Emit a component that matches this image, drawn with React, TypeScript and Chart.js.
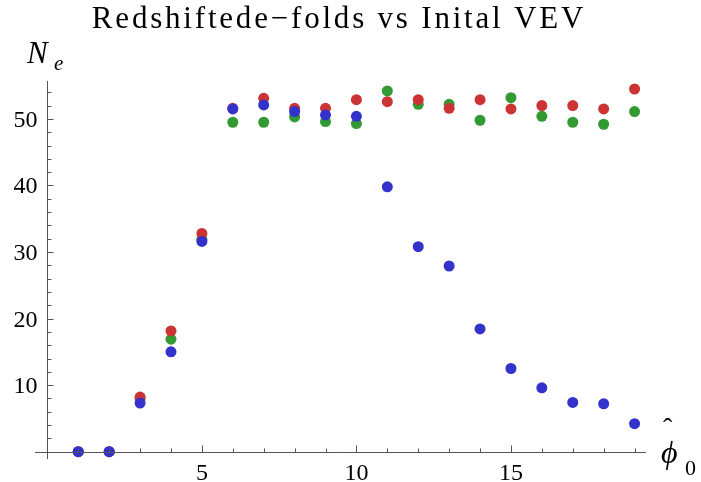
import React, { useEffect, useRef } from 'react';
import { Chart, registerables } from 'chart.js';
Chart.register(...registerables);

const phiValues = [1, 2, 3, 4, 5, 6, 7, 8, 9, 10, 11, 12, 13, 14, 15, 16, 17, 18, 19];
const seriesGreen = [0, 0, 8.0, 16.9, 31.9, 49.5, 49.5, 50.3, 49.6, 49.3, 54.2, 52.2, 52.2, 49.8, 53.2, 50.4, 49.5, 49.2, 51.1];
const seriesRed = [0, 0, 8.2, 18.15, 32.8, 51.6, 53.1, 51.6, 51.6, 52.9, 52.6, 52.9, 51.6, 52.9, 51.5, 52.0, 52.0, 51.5, 54.5];
const seriesBlue = [0, 0, 7.3, 15.0, 31.6, 51.5, 52.1, 51.1, 50.6, 50.4, 39.8, 30.8, 27.9, 18.45, 12.5, 9.6, 7.4, 7.2, 4.2];

const xMajorTicks = [5, 10, 15];
const xMinorTicks = [1, 2, 3, 4, 6, 7, 8, 9, 11, 12, 13, 14, 16, 17, 18, 19];
const yMajorTicks = [10, 20, 30, 40, 50];
const yMinorTicks = [2, 4, 6, 8, 12, 14, 16, 18, 22, 24, 26, 28, 32, 34, 36, 38, 42, 44, 46, 48, 52, 54];

const titleText = 'Redshiftede\u2212folds vs Inital VEV';

const AXIS_COLOR = '#555555';
const SERIF = "'Liberation Serif', 'Times New Roman', serif";

const mmaAxes = {
  id: 'mmaAxes',
  afterDatasetsDraw(chart: any) {
    const { ctx, chartArea, scales } = chart;
    const xs = scales.x;
    const ys = scales.y;
    const x0 = Math.round(xs.getPixelForValue(0)) + 0.5;
    const y0 = Math.round(ys.getPixelForValue(0)) + 0.5;
    ctx.save();
    ctx.strokeStyle = AXIS_COLOR;
    ctx.lineWidth = 1;
    ctx.beginPath();
    ctx.moveTo(chartArea.left, y0);
    ctx.lineTo(chartArea.right, y0);
    ctx.moveTo(x0, chartArea.top);
    ctx.lineTo(x0, chartArea.bottom);
    const xt = (v: number, len: number) => {
      const p = Math.round(xs.getPixelForValue(v)) + 0.5;
      ctx.moveTo(p, y0);
      ctx.lineTo(p, y0 - len);
    };
    const yt = (v: number, len: number) => {
      const p = Math.round(ys.getPixelForValue(v)) + 0.5;
      ctx.moveTo(x0, p);
      ctx.lineTo(x0 + len, p);
    };
    xMajorTicks.forEach((v) => xt(v, 7));
    xMinorTicks.forEach((v) => xt(v, 4));
    yMajorTicks.forEach((v) => yt(v, 6));
    yMinorTicks.forEach((v) => yt(v, 4));
    ctx.stroke();
    // y tick labels (placed by the y scale)
    ctx.fillStyle = '#000000';
    ctx.font = `24px ${SERIF}`;
    ctx.textAlign = 'right';
    ctx.textBaseline = 'alphabetic';
    yMajorTicks.forEach((v) => {
      ctx.fillText(String(v), x0 - 10, ys.getPixelForValue(v) + 8);
    });
    ctx.restore();
  },
  afterDraw(chart: any) {
    const { ctx } = chart;
    ctx.save();
    ctx.fillStyle = '#000000';
    // title
    ctx.font = `31px ${SERIF}`;
    (ctx as any).letterSpacing = '2.8px';
    ctx.textAlign = 'center';
    ctx.textBaseline = 'alphabetic';
    ctx.fillText(titleText, 339, 28);
    (ctx as any).letterSpacing = '0px';
    // y axis label N_e
    ctx.textAlign = 'left';
    ctx.font = `italic 31px ${SERIF}`;
    ctx.fillText('N', 27, 63);
    ctx.font = `italic 21px ${SERIF}`;
    ctx.fillText('e', 54, 70);
    // x axis label phi-hat_0
    ctx.font = `italic 32px ${SERIF}`;
    ctx.fillText('\u03D5', 661, 463);
    ctx.font = `28px ${SERIF}`;
    ctx.fillText('\u02C6', 663, 437);
    ctx.font = `22px ${SERIF}`;
    ctx.fillText('0', 685, 475);
    ctx.restore();
  },
};

const zeroFit = (s: any) => {
  if (s.isHorizontal()) s.height = 0; else s.width = 0;
  s.paddingTop = 0; s.paddingBottom = 0; s.paddingLeft = 0; s.paddingRight = 0;
};

export default function App() {
  const ref = useRef<HTMLCanvasElement | null>(null);
  useEffect(() => {
    if (!ref.current) return;
    const mk = (vals: number[]) => phiValues.map((x, i) => ({ x, y: vals[i] }));
    const chart = new Chart(ref.current, {
      type: 'scatter',
      data: {
        datasets: [
          { label: 'blue', data: mk(seriesBlue), backgroundColor: 'rgb(51,51,204)', borderWidth: 0, pointRadius: 5.5 },
          { label: 'red', data: mk(seriesRed), backgroundColor: 'rgb(204,51,51)', borderWidth: 0, pointRadius: 5.5 },
          { label: 'green', data: mk(seriesGreen), backgroundColor: 'rgb(51,153,51)', borderWidth: 0, pointRadius: 5.5 },
        ],
      },
      options: {
        responsive: false,
        animation: false,
        devicePixelRatio: 1,
        layout: { padding: { left: 35, right: 55, top: 81, bottom: 23 } },
        plugins: { legend: { display: false }, title: { display: false }, tooltip: { enabled: false } },
        scales: {
          x: {
            type: 'linear',
            position: { y: 0 } as any,
            min: -0.4,
            max: 19.37,
            afterBuildTicks: (s: any) => { s.ticks = xMajorTicks.map((v) => ({ value: v })); },
            afterFit: zeroFit,
            grid: { display: false, drawTicks: false },
            border: { display: false },
            ticks: { color: '#000', font: { family: SERIF, size: 24 }, padding: 8, maxRotation: 0, autoSkip: false },
          },
          y: {
            type: 'linear',
            position: { x: 0 } as any,
            min: -1.1,
            max: 55.7,
            afterBuildTicks: (s: any) => { s.ticks = yMajorTicks.map((v) => ({ value: v })); },
            afterFit: zeroFit,
            grid: { display: false, drawTicks: false },
            border: { display: false },
            ticks: { display: false },
          },
        },
      },
      plugins: [mmaAxes],
    });
    return () => chart.destroy();
  }, []);
  return (
    <div style={{ position: 'fixed', left: 0, top: 0, width: 701, height: 482, background: '#fff' }}>
      <canvas ref={ref} width={701} height={482} style={{ display: 'block' }} />
    </div>
  );
}
